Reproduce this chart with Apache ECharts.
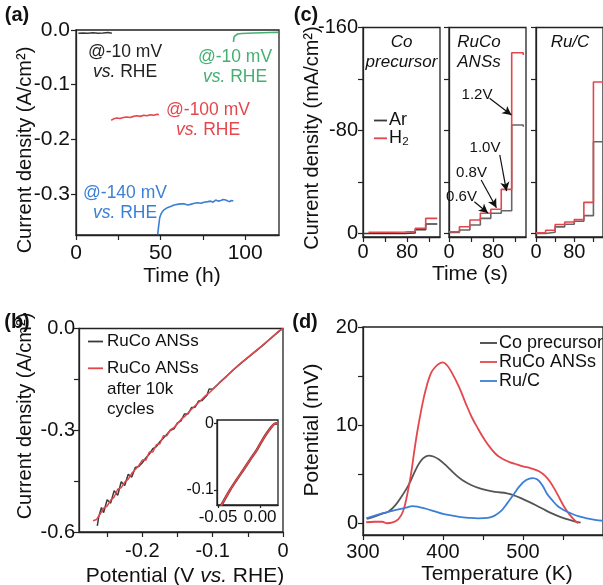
<!DOCTYPE html>
<html><head><meta charset="utf-8">
<script src="https://cdn.jsdelivr.net/npm/echarts@6/dist/echarts.min.js"></script>
<style>html,body{margin:0;padding:0;background:#fff}#c{width:603px;height:585px}</style>
</head><body><div id="c"></div>
<script>
// ---------- Panel (a): chronoamperometry ----------
const aBlackT = [1.4, 4, 7, 10, 13, 16, 19, 21.2];
const aBlackJ = [-0.006, -0.0055, -0.006, -0.005, -0.006, -0.0055, -0.0045, -0.006];
const aRedT = [20.8, 22, 24, 26, 28, 30, 32, 34, 36, 38, 40, 42, 44, 46, 48, 49];
const aRedJ = [-0.165, -0.163, -0.161, -0.162, -0.160, -0.159, -0.160, -0.158, -0.157, -0.158, -0.156, -0.157, -0.155, -0.156, -0.154, -0.155];
const aBlueT = [48.3, 48.8, 49.5, 50.2, 50.9, 52, 52.9, 54, 55.9, 58, 59.8, 62, 63.8, 66, 67.7, 70, 71.7, 74, 75.6, 78, 79.6, 81, 82.6, 84, 85.6, 87, 88.5, 90.5, 92, 93];
const aBlueJ = [-0.374, -0.36, -0.343, -0.337, -0.333, -0.329, -0.327, -0.325, -0.323, -0.320, -0.319, -0.318, -0.318, -0.320, -0.319, -0.317, -0.316, -0.317, -0.315, -0.314, -0.313, -0.315, -0.311, -0.313, -0.312, -0.310, -0.311, -0.314, -0.312, -0.313];
const aGreenT = [93.1, 93.3, 93.5, 94, 95.5, 98, 101.4, 105, 110, 115, 119.5];
const aGreenJ = [-0.022, -0.016, -0.012, -0.009, -0.0073, -0.0065, -0.006, -0.0055, -0.005, -0.0045, -0.0043];
const aYTicks = [0, -0.1, -0.2, -0.3];
const aXTicks = [0, 25, 50, 75, 100];
const aXLabels = [0, 50, 100];

// ---------- Panel (b): polarization ----------
const bBlackV = [0, -0.005, -0.01, -0.02, -0.03, -0.04, -0.05, -0.06, -0.07, -0.08, -0.09, -0.1, -0.105, -0.108, -0.11, -0.115, -0.12, -0.125, -0.13, -0.135, -0.14, -0.145, -0.15, -0.155, -0.16, -0.165, -0.17, -0.175, -0.18, -0.185, -0.19, -0.195, -0.2, -0.205, -0.21, -0.215, -0.22, -0.225, -0.23, -0.235, -0.24, -0.245, -0.25, -0.255, -0.258, -0.262, -0.264];
const bBlackJ = [0, -0.007, -0.016, -0.034, -0.052, -0.069, -0.086, -0.103, -0.121, -0.140, -0.159, -0.179, -0.178, -0.197, -0.196, -0.212, -0.214, -0.232, -0.233, -0.252, -0.252, -0.272, -0.278, -0.296, -0.300, -0.312, -0.323, -0.334, -0.348, -0.354, -0.370, -0.382, -0.396, -0.407, -0.410, -0.438, -0.430, -0.463, -0.452, -0.492, -0.478, -0.515, -0.505, -0.543, -0.528, -0.556, -0.582];
const bRedV = [0, -0.005, -0.01, -0.02, -0.03, -0.04, -0.05, -0.06, -0.07, -0.08, -0.09, -0.1, -0.105, -0.11, -0.115, -0.12, -0.125, -0.13, -0.135, -0.14, -0.145, -0.15, -0.155, -0.16, -0.165, -0.17, -0.175, -0.18, -0.185, -0.19, -0.195, -0.2, -0.205, -0.21, -0.215, -0.22, -0.225, -0.23, -0.235, -0.24, -0.245, -0.25, -0.255, -0.26, -0.265, -0.27];
const bRedJ = [0, -0.006, -0.015, -0.033, -0.051, -0.068, -0.085, -0.102, -0.120, -0.141, -0.160, -0.180, -0.190, -0.198, -0.208, -0.218, -0.228, -0.238, -0.249, -0.260, -0.268, -0.281, -0.292, -0.298, -0.316, -0.316, -0.340, -0.343, -0.364, -0.364, -0.388, -0.388, -0.404, -0.416, -0.427, -0.444, -0.453, -0.469, -0.474, -0.497, -0.506, -0.524, -0.530, -0.547, -0.563, -0.567];
const bInsetV = [0.0205, 0.017, 0.0139, 0.008, 0.002, -0.0039, -0.012, -0.0199, -0.028, -0.0357, -0.0465];
const bInsetJ = [0, -0.001, -0.005, -0.015, -0.027, -0.040, -0.055, -0.070, -0.085, -0.100, -0.124];
const bYTicks = [0, -0.15, -0.3, -0.45, -0.6];
const bYLabels = [0, -0.3, -0.6];
const bXTicks = [-0.25, -0.2, -0.15, -0.1, -0.05, 0];
const bXLabels = [-0.2, -0.1, 0];
const bInsetYLabels = [0, -0.1];
const bInsetXLabels = [-0.05, 0];

// ---------- Panel (c): step currents ----------
const cTimes12 = [0, 19, 38, 57, 76, 95, 114, 135];
const cTimesCoRed = [10, 19, 38, 57, 76, 95, 114, 135];
const cTimes3 = [0, 20, 40, 60, 80, 100, 120, 140];
const coArJ = [0, 0, 0, 0, -0.5, -3, -7.4];
const coH2J = [-1, -1, -1, -1.2, -1.5, -4, -11.8];
const rucoArJ = [-0.9, -2.7, -6.6, -11.8, -15.7, -17.7, -84.3];
const rucoH2J = [-1.4, -5.3, -10.5, -15.7, -18.8, -34.3, -140.4];
const rucoH2End = -138.6;
const rucoArEnd = -83.0;
const rucArJ = [0, -1, -5.2, -7.2, -9.5, -13.9, -71.3];
const rucH2J = [-0.5, -2.6, -7, -9, -10.8, -24.2, -117.7];
const cYTicks = [-160, -120, -80, -40, 0];
const cYLabels = [-160, -80, 0];
const cXTicks = [0, 40, 80, 120];
const cXLabels = [0, 80];
const cTitles = [['Co', 'precursor'], ['RuCo', 'ANSs'], ['Ru/C']];
const cVoltLabels = ['1.2V', '1.0V', '0.8V', '0.6V'];

// ---------- Panel (d): TPD ----------
const dBlackT = [305, 315, 325, 332, 340, 348, 355, 360, 368, 375, 382, 388, 395, 405, 415, 424, 435, 448, 465, 480, 490, 500, 512, 524, 536, 548, 560, 572];
const dBlackV = [0.45, 0.7, 1.0, 1.2, 1.8, 2.7, 3.6, 4.4, 5.8, 6.6, 6.9, 6.8, 6.5, 5.8, 5.0, 4.4, 3.9, 3.5, 3.2, 3.05, 2.8, 2.45, 2.0, 1.5, 1.0, 0.6, 0.3, 0.05];
const dRedT = [304, 315, 324, 330, 336, 344, 350, 355, 360, 364, 368, 372, 376, 380, 385, 390, 396, 400, 405, 410, 420, 428, 436, 444, 452, 460, 468, 476, 484, 492, 500, 510, 520, 528, 534, 540, 546, 552, 558, 564, 569];
const dRedV = [0.1, 0.15, 0.15, 0.0, 0.05, 0.4, 1.2, 2.8, 5.0, 7.3, 9.4, 11.2, 12.8, 14.1, 15.3, 15.9, 16.3, 16.4, 16.1, 15.5, 13.9, 12.3, 10.8, 9.6, 8.5, 7.6, 6.9, 6.5, 6.2, 6.0, 5.8, 5.6, 5.3, 4.8, 4.2, 3.4, 2.5, 1.6, 0.9, 0.35, 0.0];
const dBlueT = [304, 314, 324, 334, 344, 354, 362, 370, 380, 390, 400, 410, 420, 432, 444, 456, 464, 472, 480, 488, 496, 504, 512, 518, 524, 530, 536, 544, 552, 560, 570, 580, 590, 600];
const dBlueV = [0.5, 0.75, 1.0, 1.2, 1.4, 1.6, 1.75, 1.65, 1.45, 1.2, 0.95, 0.8, 0.65, 0.55, 0.5, 0.55, 0.75, 1.2, 2.0, 2.9, 3.8, 4.4, 4.6, 4.45, 3.9, 3.0, 2.4, 1.7, 1.3, 1.0, 0.7, 0.5, 0.35, 0.25];
const dXTicks = [300, 350, 400, 450, 500, 550, 600];
const dXLabels = [300, 400, 500];
const dYTicks = [0, 5, 10, 15, 20];
const dYLabels = [0, 10, 20];
const dLegend = ['Co precursor', 'RuCo ANSs', 'Ru/C'];

// ---------- styling ----------
const FONT = '"Liberation Sans", Arial, sans-serif';
const BLACK = '#3a3a3a', RED = '#e3474d', BLUE = '#3b7fd6', GREEN = '#45b072', AX = '#222';

const zip = (a, b) => a.map((v, i) => [v, b[i]]);
function steps(times, vals, endVal) {
  const d = vals.map((v, i) => [times[i], v]);
  d.push([times[vals.length], endVal === undefined ? vals[vals.length - 1] : endVal]);
  return d;
}

function axis(gi, min, max, ticks, labels, fmt, o) {
  o = o || {};
  return {
    type: 'value', gridIndex: gi, min: min, max: max, inverse: !!o.inverse,
    axisLine: {show: true, onZero: false, lineStyle: {color: AX, width: 1.3}},
    axisTick: {show: true, customValues: ticks, length: o.tickLen || 5, lineStyle: {color: AX, width: 1.2}},
    axisLabel: {show: labels.length > 0, customValues: labels, formatter: fmt, fontSize: o.fs || 20,
      fontFamily: FONT, color: '#111', margin: o.margin === undefined ? 5 : o.margin},
    splitLine: {show: false}
  };
}
const grid = (l, t, w, h) => ({left: l, top: t, width: w, height: h, show: true, borderColor: AX, borderWidth: 1.3, backgroundColor: 'rgba(0,0,0,0)', containLabel: false});
function line(xi, yi, data, color, o) {
  o = o || {};
  return Object.assign({type: 'line', xAxisIndex: xi, yAxisIndex: yi, data: data, showSymbol: false, symbol: 'none',
    lineStyle: {color: color, width: o.w || 1.6}, itemStyle: {color: color}, z: o.z || 2, animation: false}, o.extra || {});
}

function T(x, y, text, o) {
  o = o || {};
  const st = {text: text, fontSize: o.fs || 20, fontFamily: FONT, fontWeight: o.bold ? 'bold' : 'normal',
    fontStyle: o.italic ? 'italic' : 'normal', fill: o.color || '#111',
    align: o.align || 'center', verticalAlign: 'middle', textAlign: o.align || 'center', textVerticalAlign: 'middle'};
  if (o.rich) { st.rich = o.rich; if (o.lh) st.lineHeight = o.lh; }
  return {type: 'text', x: x, y: y, rotation: o.rot || 0, z: 100, style: st};
}
function L(x1, y1, x2, y2, color) {
  return {type: 'line', shape: {x1: x1, y1: y1, x2: x2, y2: y2}, style: {stroke: color, lineWidth: 1.8}, z: 100};
}
function vsRich(fs, color) {
  return {i: {fontStyle: 'italic', fontSize: fs, fontFamily: FONT, fill: color, color: color, lineHeight: 20},
          n: {fontSize: fs, fontFamily: FONT, fill: color, color: color, lineHeight: 20}};
}
function annot(x, y, first, color) {
  return T(x, y, '{n|' + first + '}\n{i|vs.}{n| RHE}', {fs: 17.5, color: color, rich: vsRich(17.5, color), lh: 20});
}

const f1 = v => (v === 0 ? '0.0' : v.toFixed(1));
const fInt = v => String(v);

const grids = [
  grid(76, 30, 203, 205),        // 0 a
  grid(79, 328.5, 204, 203.5),   // 1 b
  grid(217, 420, 61, 85),        // 2 b inset
  grid(363, 27.5, 77, 209.5),    // 3 c1
  grid(449, 27.5, 77, 209.5),    // 4 c2
  grid(536, 27.5, 77, 209.5),    // 5 c3
  grid(363, 327, 250, 208)       // 6 d
];

const xAxes = [
  axis(0, 0, 120, aXTicks, aXLabels, fInt, {margin: 8, fs: 21}),
  axis(1, -0.29, 0, bXTicks, bXLabels, v => (v === 0 ? '0' : v.toFixed(1)), {margin: 9}),
  axis(2, -0.0512, 0.0214, bInsetXLabels, bInsetXLabels, v => v.toFixed(2), {fs: 17, margin: 4, tickLen: 3}),
  axis(3, 0, 140, cXTicks, cXLabels, fInt, {margin: 5}),
  axis(4, 0, 140, cXTicks, cXLabels, fInt, {margin: 5}),
  axis(5, 0, 140, cXTicks, cXLabels, fInt, {margin: 5}),
  axis(6, 300, 600, dXTicks, dXLabels, fInt, {margin: 7})
];
const yAxes = [
  axis(0, -0.375, 0, aYTicks, aYTicks, f1, {margin: 6, fs: 21}),
  axis(1, -0.6, 0, bYTicks, bYLabels, f1, {margin: 4}),
  axis(2, -0.1225, 0.005, bInsetYLabels, bInsetYLabels, v => (v === 0 ? '0' : v.toFixed(1)), {fs: 16, margin: 3, tickLen: 3}),
  axis(3, -160, 2.7, cYTicks, cYLabels, fInt, {inverse: true, margin: 5}),
  axis(4, -160, 2.7, cYTicks, [], fInt, {inverse: true}),
  axis(5, -160, 2.7, cYTicks, [], fInt, {inverse: true}),
  axis(6, -1.2, 20, dYTicks, dYLabels, fInt, {margin: 5})
];

// arrow annotations in panel c2 data coordinates
const arrowCoords = [
  [[73.8, -105], [113.5, -92]],
  [[92.3, -61], [104.6, -33]],
  [[58.5, -41.6], [86.2, -20]],
  [[46.1, -24.7], [70.8, -16]]
];
const arrowPos = [[477, 95], [485, 148], [471.5, 173], [461.5, 197]];

const series = [
  line(0, 0, zip(aBlackT, aBlackJ), BLACK),
  line(0, 0, zip(aRedT, aRedJ), RED),
  line(0, 0, zip(aBlueT, aBlueJ), BLUE),
  line(0, 0, zip(aGreenT, aGreenJ), GREEN),

  line(1, 1, zip(bBlackV, bBlackJ), BLACK, {w: 1.5}),
  line(1, 1, zip(bRedV, bRedJ), RED, {w: 1.5, z: 3}),
  line(2, 2, zip(bInsetV, bInsetJ), '#7a3a3a', {w: 2.6, extra: {smooth: 0.3}}),
  line(2, 2, zip(bInsetV, bInsetJ), RED, {w: 1.5, z: 3, extra: {smooth: 0.3}}),

  line(3, 3, steps(cTimes12, coArJ), BLACK, {w: 1.6, extra: {step: 'end'}}),
  line(3, 3, steps(cTimesCoRed, coH2J), RED, {w: 1.6, z: 3, extra: {step: 'end'}}),
  line(4, 4, steps(cTimes12, rucoArJ, rucoArEnd), '#666', {w: 1.6, extra: {step: 'end'}}),
  line(4, 4, steps(cTimes12, rucoH2J, rucoH2End), RED, {w: 1.6, z: 3, extra: {step: 'end',
    markLine: {silent: true, animation: false, symbol: ['none', 'arrow'], symbolSize: [7, 9],
      lineStyle: {color: '#111', width: 1.2, type: 'solid'}, label: {show: false},
      data: arrowCoords.map(a => [{coord: a[0]}, {coord: a[1]}])}}}),
  line(5, 5, steps(cTimes3, rucArJ), '#666', {w: 1.6, extra: {step: 'end'}}),
  line(5, 5, steps(cTimes3, rucH2J), RED, {w: 1.6, z: 3, extra: {step: 'end'}}),

  line(6, 6, zip(dBlackT, dBlackV), '#555', {w: 1.8, extra: {smooth: 0.4}}),
  line(6, 6, zip(dRedT, dRedV), RED, {w: 1.8, extra: {smooth: 0.4}}),
  line(6, 6, zip(dBlueT, dBlueV), BLUE, {w: 1.8, extra: {smooth: 0.4}})
];

const graphics = [
  // panel labels
  T(17, 15, '(a)', {bold: true, fs: 20}),
  T(306, 15, '(c)', {bold: true, fs: 20}),
  T(17, 322, '(b)', {bold: true, fs: 20}),
  T(305, 322, '(d)', {bold: true, fs: 20}),
  // axis titles
  T(25, 150, 'Current density (A/cm²)', {rot: Math.PI / 2, fs: 20}),
  T(182, 276, 'Time (h)', {fs: 21}),
  T(312, 138, 'Current density (mA/cm²)', {rot: Math.PI / 2, fs: 20}),
  T(470, 274, 'Time (s)', {fs: 21}),
  T(25, 416, 'Current density (A/cm²)', {rot: Math.PI / 2, fs: 20}),
  T(185, 576, '{n|Potential (V }{i|vs.}{n| RHE)}', {fs: 21, rich: vsRich(21, '#111')}),
  T(312, 430, 'Potential (mV)', {rot: Math.PI / 2, fs: 21}),
  T(497, 574, 'Temperature (K)', {fs: 21}),
  // panel a annotations
  annot(125, 62, '@-10 mV', '#222'),
  annot(235, 67, '@-10 mV', GREEN),
  annot(208, 120, '@-100 mV', RED),
  annot(125, 203, '@-140 mV', BLUE),
  // panel b legend
  L(88, 341.5, 103, 341.5, BLACK), T(107, 341.5, 'RuCo ANSs', {fs: 17, align: 'left'}),
  L(88, 368.3, 103, 368.3, RED), T(107, 368.3, 'RuCo ANSs', {fs: 17, align: 'left'}),
  T(107, 389, 'after 10k', {fs: 17, align: 'left'}),
  T(107, 409, 'cycles', {fs: 17, align: 'left'}),
  // panel c titles & legend
  T(401.5, 42, cTitles[0][0], {fs: 17, italic: true}), T(401.5, 62, cTitles[0][1], {fs: 17, italic: true}),
  T(479, 42, cTitles[1][0], {fs: 17, italic: true}), T(479, 62, cTitles[1][1], {fs: 17, italic: true}),
  T(570, 42, cTitles[2][0], {fs: 17, italic: true}),
  L(374, 120.5, 387, 120.5, BLACK), T(389, 120.5, 'Ar', {fs: 18, align: 'left'}),
  L(374, 138.3, 387, 138.3, RED), T(389, 138.3, 'H₂', {fs: 18, align: 'left'}),
  // panel d legend
  L(480, 343, 497, 343, '#444'), T(499, 343, dLegend[0], {fs: 18, align: 'left'}),
  L(480, 362, 497, 362, RED), T(499, 362, dLegend[1], {fs: 18, align: 'left'}),
  L(480, 381, 497, 381, BLUE), T(499, 381, dLegend[2], {fs: 18, align: 'left'})
];
cVoltLabels.forEach((s, i) => graphics.push(T(arrowPos[i][0], arrowPos[i][1], s, {fs: 15})));

const chart = echarts.init(document.getElementById('c'), null, {renderer: 'canvas'});
chart.setOption({
  animation: false,
  backgroundColor: '#fff',
  grid: grids, xAxis: xAxes, yAxis: yAxes, series: series,
  graphic: {elements: graphics}
});
</script></body></html>
